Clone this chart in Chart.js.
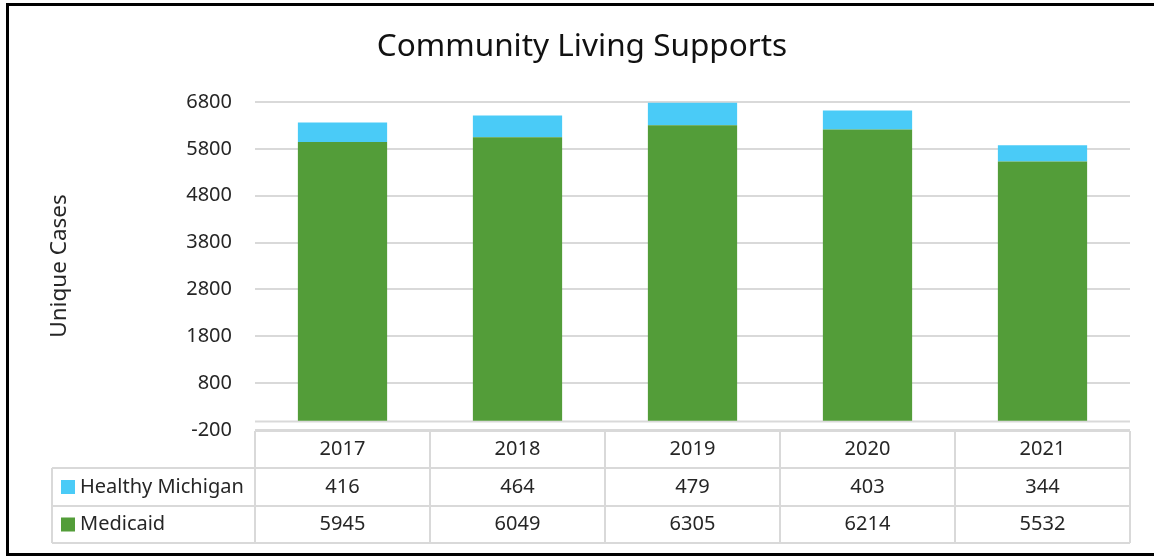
<!DOCTYPE html>
<html>
<head>
<meta charset="utf-8">
<script src="https://cdn.jsdelivr.net/npm/chart.js@4.4.1/dist/chart.umd.min.js"></script>
<style>
  html, body { margin: 0; padding: 0; background: #fff; }
  #wrap { width: 1154px; height: 557px; position: relative; }
</style>
</head>
<body>
<div id="wrap"><canvas id="cls" width="1154" height="557"></canvas></div>
<script>
const years = ["2017", "2018", "2019", "2020", "2021"]
const healthyMichigan = [416, 464, 479, 403, 344]
const medicaid = [5945, 6049, 6305, 6214, 5532]
const yMin = -200
const yMax = 6800
const yStep = 1000

const GREEN = "#539D39"
const BLUE = "#4ACBF7"
const LINE = "#d9d9d9"
const TEXT = "#262626"
const FONT = "'Noto Sans', 'Open Sans', sans-serif"

// rows of the data table, top to bottom
const tableRows = [
  { label: "Healthy Michigan", color: BLUE, values: healthyMichigan },
  { label: "Medicaid", color: GREEN, values: medicaid }
]

const zeroLine = {
  id: "zeroLine",
  beforeDatasetsDraw(chart) {
    const { ctx, chartArea, scales: { y } } = chart
    const py = Math.round(y.getPixelForValue(0)) + 0.5
    ctx.save()
    ctx.strokeStyle = LINE
    ctx.lineWidth = 2
    ctx.beginPath()
    ctx.moveTo(chartArea.left, py)
    ctx.lineTo(chartArea.right, py)
    ctx.stroke()
    ctx.restore()
  }
}

const dataTable = {
  id: "dataTable",
  afterDraw(chart) {
    const { ctx, chartArea, scales: { x } } = chart
    const colW = (chartArea.right - chartArea.left) / years.length
    const top = chartArea.bottom + 1
    const rowH = [37, 38, 37]
    const rowY = [top, top + rowH[0], top + rowH[0] + rowH[1], top + rowH[0] + rowH[1] + rowH[2]]
    const labelLeft = 52

    ctx.save()
    ctx.strokeStyle = LINE
    ctx.lineWidth = 2
    ctx.beginPath()
    // horizontals
    ctx.moveTo(chartArea.left, rowY[0]); ctx.lineTo(chartArea.right, rowY[0])
    for (let r = 1; r < rowY.length; r++) {
      ctx.moveTo(labelLeft, rowY[r]); ctx.lineTo(chartArea.right, rowY[r])
    }
    // verticals
    ctx.moveTo(labelLeft, rowY[1]); ctx.lineTo(labelLeft, rowY[3])
    for (let i = 0; i <= years.length; i++) {
      const px = chartArea.left + i * colW
      ctx.moveTo(px, rowY[0]); ctx.lineTo(px, rowY[3])
    }
    ctx.stroke()

    ctx.fillStyle = TEXT
    ctx.font = "20px " + FONT
    ctx.textAlign = "center"
    ctx.textBaseline = "middle"
    years.forEach((yr, i) => {
      ctx.fillText(yr, x.getPixelForValue(i), (rowY[0] + rowY[1]) / 2)
    })
    tableRows.forEach((row, r) => {
      const cy = (rowY[r + 1] + rowY[r + 2]) / 2
      ctx.fillStyle = row.color
      ctx.fillRect(61, cy - 7, 14, 14)
      ctx.fillStyle = TEXT
      ctx.textAlign = "left"
      ctx.fillText(row.label, 80, cy)
      ctx.textAlign = "center"
      row.values.forEach((v, i) => ctx.fillText(String(v), x.getPixelForValue(i), cy))
    })
    ctx.restore()
  }
}

const frame = {
  id: "frame",
  afterDraw(chart) {
    const { ctx, width } = chart
    ctx.save()
    ctx.fillStyle = "#000"
    ctx.fillRect(6, 3, width - 6, 3)
    ctx.fillRect(6, 3, 3, 553)
    ctx.fillRect(6, 553, width - 6, 3)
    ctx.restore()
  }
}

Chart.defaults.font.family = FONT
Chart.defaults.color = TEXT

new Chart(document.getElementById("cls"), {
  type: "bar",
  data: {
    labels: years,
    datasets: [
      { label: "Medicaid", data: medicaid, backgroundColor: GREEN, borderWidth: 0 },
      { label: "Healthy Michigan", data: healthyMichigan, backgroundColor: BLUE, borderWidth: 0 }
    ]
  },
  options: {
    responsive: false,
    animation: false,
    datasets: { bar: { barPercentage: 0.51, categoryPercentage: 1 } },
    layout: { padding: { top: 0, right: 24, bottom: 0, left: 34 } },
    scales: {
      x: {
        stacked: true,
        grid: { display: false },
        border: { display: false },
        ticks: { display: false },
        afterFit: s => { s.height = 127 }
      },
      y: {
        stacked: true,
        min: yMin,
        max: yMax,
        afterFit: s => { s.width = 221 },
        afterBuildTicks: s => {
          s.ticks = []
          for (let v = yMin; v <= yMax; v += yStep) s.ticks.push({ value: v })
        },
        grid: { color: LINE, lineWidth: 2, drawTicks: false },
        border: { display: false },
        ticks: { padding: 23, font: { size: 20 }, color: TEXT, callback: v => String(v) },
        title: {
          display: true,
          text: "Unique Cases",
          font: { size: 22.5 },
          color: TEXT,
          padding: { top: 12, bottom: 0 }
        }
      }
    },
    plugins: {
      legend: { display: false },
      tooltip: { enabled: false },
      title: {
        display: true,
        text: "Community Living Supports",
        font: { size: 31.5, weight: "normal" },
        color: "#111",
        padding: { top: 28.5, bottom: 35.7 }
      }
    }
  },
  plugins: [zeroLine, dataTable, frame]
})
</script>
</body>
</html>
